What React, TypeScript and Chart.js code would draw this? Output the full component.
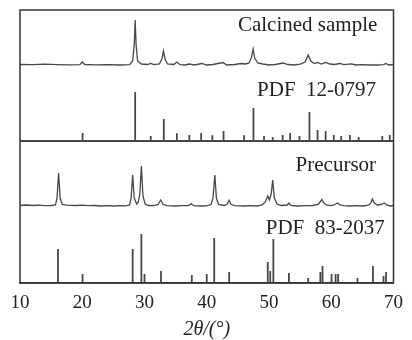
import React, { useEffect, useRef } from "react";
import { Chart, registerables } from "chart.js";

Chart.register(...registerables);

// ---------- data ----------
const xTicks = [10, 20, 30, 40, 50, 60, 70];
const xTitle = "2θ/(°)";
const panelLabels = ["Calcined sample", "PDF  12-0797", "Precursor", "PDF  83-2037"];

// [2θ, relative intensity above the pattern's own baseline]
const calcinedProfile: [number, number][] = [
  [10, 0.5], [12, 0.3], [14, 0.8], [16, 0.4], [18, 0.2], [19.6, 0.3], [20.0, 3], [20.4, 0.5],
  [22, 0.2], [24, 0.3], [26, 0], [27.6, 0.3], [28.1, 4], [28.35, 20], [28.5, 45], [28.65, 20],
  [28.9, 4], [29.5, 1], [30.5, 0.5], [31, 1.5], [31.5, 0.4], [32.4, 1], [32.8, 6], [33.05, 14],
  [33.3, 6], [33.7, 1], [34.7, 0.5], [35.2, 3], [35.7, 0.3], [36.5, 0], [37.2, 1], [38, 0],
  [39.2, 1.5], [40, 0], [41, 0.5], [42.6, 2.5], [43.2, 0], [44.5, 0.5], [45.5, 1.5], [46.2, 1],
  [46.8, 2], [47.2, 8], [47.45, 16], [47.7, 7], [48.2, 2], [49, 1], [50, 0], [51, 0.5],
  [52.3, 2], [53, 0.5], [54, 0], [55, 0.8], [55.8, 3], [56.3, 10], [56.7, 4], [57.3, 1.5],
  [57.8, 2.5], [58.4, 1], [59.1, 2.5], [59.8, 1], [60.5, 0.5], [61.4, 1.5], [62, 0.3],
  [63.2, 1.2], [64, 0], [65, 0.3], [66, 0], [67.5, 0], [68.4, 0.3], [68.8, 1.5], [69.2, 0], [70, 0.5],
];

const precursorProfile: [number, number][] = [
  [10, 0.5], [11, 1], [12, 0.5], [13, 0.8], [14, 0.3], [15, 0.5], [15.7, 1], [15.95, 8],
  [16.2, 33], [16.45, 8], [16.8, 1.5], [17.5, 0.8], [19, 0.5], [20, 0.8], [21, 0.3], [22, 0.5],
  [23, 0], [24, 0.3], [25, 0], [26, 0.3], [27, 0.2], [27.6, 1], [27.85, 8], [28.1, 31],
  [28.35, 8], [28.75, 2], [29.0, 4], [29.25, 12], [29.5, 40], [29.75, 10], [30.1, 2], [30.6, 0.5],
  [31.5, 0.3], [32.2, 1.5], [32.6, 6], [33.0, 1.5], [33.6, 0.3], [35, 0], [36, 0.3], [37.1, 0.5],
  [37.5, 2.5], [37.9, 0.3], [39, 0], [40, 0.2], [40.7, 1.5], [41.0, 8], [41.3, 31], [41.55, 8],
  [41.9, 1.5], [42.8, 0.5], [43.3, 2], [43.6, 5.7], [43.9, 1.5], [44.5, 0.3], [46, 0], [47, 0.3],
  [48, 0], [48.9, 1], [49.4, 4], [49.8, 10], [50.05, 6], [50.35, 12], [50.6, 26], [50.85, 8],
  [51.3, 2], [52, 0.5], [52.9, 1], [53.2, 3], [53.5, 0.5], [54.5, 0], [56, 0.3], [57, 0.5],
  [57.9, 1.5], [58.2, 4], [58.5, 6.5], [58.8, 3], [59.3, 0.8], [60, 0.3], [60.6, 1.5], [61, 3],
  [61.4, 1.2], [62, 0.3], [63, 0], [64, 0.3], [65, 0], [66, 0.8], [66.35, 3], [66.6, 7],
  [66.9, 3], [67.4, 1], [68, 1.5], [68.5, 3], [68.9, 1], [69.5, 0], [70, 0.5],
];

// [2θ, stick height]
const pdf120797Sticks: [number, number][] = [
  [20.05, 8], [28.5, 49], [31.0, 5], [33.1, 22], [35.2, 7.7], [37.2, 6], [39.1, 8], [40.9, 5.7],
  [42.7, 10], [46.0, 5.7], [47.5, 33], [49.2, 5], [50.6, 4], [52.2, 6], [53.4, 8], [54.9, 5],
  [56.5, 29], [57.8, 11], [59.1, 10], [60.4, 6], [61.6, 5], [63.0, 6], [64.4, 4], [68.2, 5], [69.4, 6],
];

const pdf832037Sticks: [number, number][] = [
  [16.1, 34], [20.05, 9], [28.1, 34], [29.5, 49], [30.0, 9], [32.65, 12], [37.6, 8], [40.0, 9],
  [41.2, 45], [43.6, 11], [49.8, 21], [50.2, 12], [50.7, 44], [53.2, 10], [56.3, 5], [58.25, 11],
  [58.6, 17], [60.05, 9], [60.7, 9], [61.1, 9], [64.2, 5], [66.7, 17], [68.4, 7], [68.8, 11],
];

// ---------- layout constants ----------
const BASE_PDF83 = 0;
const BASE_PRECURSOR = 77;
const BASE_PDF12 = 142;
const BASE_CALCINED = 218;
const Y_MAX = 273;

const INK = "#333333";
const LINE = "#474747";
const FONT = "'Liberation Serif', 'Times New Roman', serif";

function profileData(p: [number, number][], base: number) {
  return p.map(([x, y]) => ({ x, y: y + base }));
}

function stickData(s: [number, number][], base: number, withBaseline: boolean) {
  const out: { x: number; y: number | null }[] = [];
  if (withBaseline) {
    out.push({ x: 10, y: base }, { x: 70, y: base }, { x: 70, y: null });
  }
  s.forEach(([x, h]) => {
    out.push({ x, y: base }, { x, y: base + h }, { x, y: null });
  });
  return out;
}

const labelAnchors = [
  { x: 67.4, y: 258 },
  { x: 67.2, y: 193 },
  { x: 67.2, y: 118 },
  { x: 68.6, y: 55 },
];

const framePlugin = {
  id: "frame",
  afterDatasetsDraw(chart: any) {
    const { ctx, chartArea: a, scales } = chart;
    ctx.save();
    ctx.strokeStyle = INK;
    ctx.lineWidth = 1.5;
    ctx.strokeRect(a.left, a.top, a.right - a.left, a.bottom - a.top);
    ctx.fillStyle = "#222";
    ctx.font = `21px ${FONT}`;
    ctx.textAlign = "right";
    ctx.textBaseline = "middle";
    panelLabels.forEach((t, i) => {
      const px = scales.x.getPixelForValue(labelAnchors[i].x);
      const py = scales.y.getPixelForValue(labelAnchors[i].y);
      ctx.fillText(t, px, py);
    });
    ctx.restore();
  },
};

export default function App() {
  const ref = useRef<HTMLCanvasElement | null>(null);

  useEffect(() => {
    if (!ref.current) return;
    const lineDs = (data: any[]) => ({
      type: "line" as const,
      data,
      borderColor: LINE,
      borderWidth: 1.3,
      pointRadius: 0,
      tension: 0,
      spanGaps: false,
      fill: false,
    });
    const stickDs = (data: any[]) => ({
      type: "line" as const,
      data,
      borderColor: LINE,
      borderWidth: 1.8,
      pointRadius: 0,
      tension: 0,
      spanGaps: false,
      fill: false,
    });

    const chart = new Chart(ref.current, {
      type: "line",
      data: {
        datasets: [
          lineDs(profileData(calcinedProfile, BASE_CALCINED)),
          stickDs(stickData(pdf120797Sticks, BASE_PDF12, true)),
          lineDs(profileData(precursorProfile, BASE_PRECURSOR)),
          stickDs(stickData(pdf832037Sticks, BASE_PDF83, false)),
        ],
      },
      options: {
        animation: false,
        responsive: true,
        maintainAspectRatio: false,
        layout: { padding: { left: 20, right: 14, top: 10, bottom: 0 } },
        plugins: { legend: { display: false }, tooltip: { enabled: false } },
        scales: {
          x: {
            type: "linear",
            min: 10,
            max: 70,
            afterBuildTicks: (s: any) => {
              s.ticks = xTicks.map((v) => ({ value: v }));
            },
            afterFit: (s: any) => {
              s.height = 57;
            },
            grid: { display: false, drawTicks: false },
            border: { display: true, color: INK, width: 1.5 },
            ticks: {
              color: "#222",
              font: { family: FONT, size: 19 },
              padding: 9,
              maxRotation: 0,
            },
            title: {
              display: true,
              text: xTitle,
              color: "#222",
              font: { family: FONT, size: 20, style: "italic", lineHeight: 1 },
              padding: { top: 0, bottom: 0 },
            },
          },
          y: {
            type: "linear",
            min: 0,
            max: Y_MAX,
            display: false,
          },
        },
      },
      plugins: [framePlugin],
    });
    return () => chart.destroy();
  }, []);

  return (
    <div style={{ position: "absolute", left: 0, top: 0, width: 412, height: 340, background: "#fff" }}>
      <canvas ref={ref} />
    </div>
  );
}
